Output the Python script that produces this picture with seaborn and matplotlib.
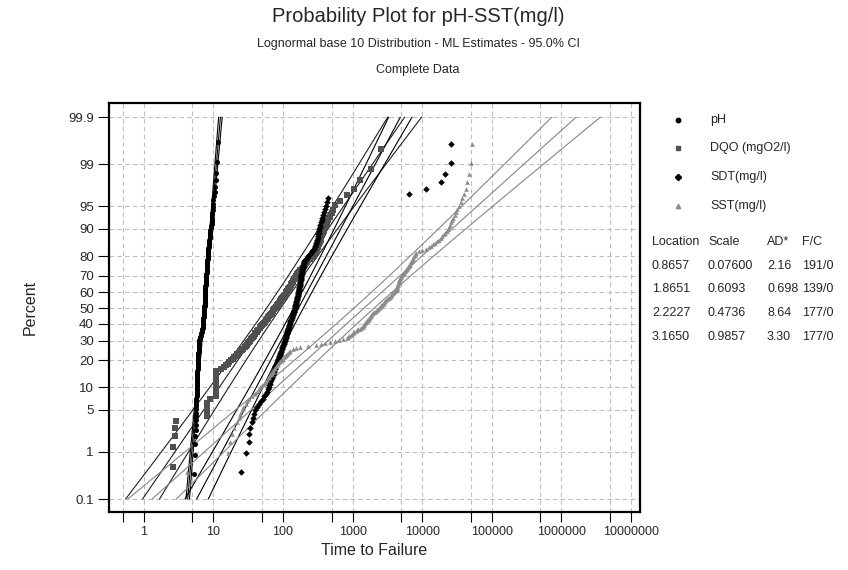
import numpy as np
import pandas as pd
import matplotlib
matplotlib.use("Agg")
import matplotlib.pyplot as plt
from matplotlib.lines import Line2D
from matplotlib.ticker import FixedLocator, NullFormatter
import seaborn as sns
from statistics import NormalDist

# fitted parameters (table on the right of the chart)
series_names = ["pH", "DQO (mgO2/l)", "SDT(mg/l)", "SST(mg/l)"]
locations = [0.8657, 1.8651, 2.2227, 3.1650]
scales = [0.07600, 0.6093, 0.4736, 0.9857]
loc_labels = ["0.8657", "1.8651", "2.2227", "3.1650"]
scale_labels = ["0.07600", "0.6093", "0.4736", "0.9857"]
ad_labels = ["2.16", "0.698", "8.64", "3.30"]
fc_labels = ["191/0", "139/0", "177/0", "177/0"]

ph_levels = [5.3, 5.4, 5.5, 5.6, 5.7, 5.8, 5.9, 6.0, 6.1, 6.2, 6.3, 6.5, 6.7, 6.9,
             7.0, 7.1, 7.2, 7.3, 7.4, 7.5, 7.6, 7.7, 7.8, 7.9, 8.0, 8.1, 8.2, 8.3,
             8.4, 8.5, 8.6, 8.7, 8.8, 9.0, 9.2, 9.4, 9.5, 9.6, 9.8, 10.0, 10.2,
             10.4, 10.6, 10.8, 11.0, 11.2, 11.6]
ph_counts = [1, 1, 2, 4, 6, 8, 8, 9, 6, 7, 6, 4, 4, 5,
             4, 4, 5, 6, 8, 9, 9, 7, 7, 6, 5, 5, 4, 4,
             3, 3, 3, 3, 3, 3, 2, 2, 2, 2, 2, 2, 1,
             1, 1, 1, 1, 1, 1]

dqo = [2.6, 2.6, 2.8, 2.8, 2.9, 8, 8, 8, 8, 9,
       11, 11, 11, 11, 11, 11, 11, 11, 11, 11, 11, 11,
       13, 14, 15, 16, 17,
       18, 19, 20, 21, 22, 23, 24, 26,
       27, 28, 29, 30, 31, 32, 34,
       35, 36, 37, 38, 39, 40, 42,
       43, 44, 46, 47, 49, 50, 52,
       54, 55, 57, 58, 60, 61, 63,
       65, 67, 69, 71, 73, 75, 77,
       79, 81, 83, 85, 88, 90, 93,
       95, 98, 100, 103, 106, 109, 112,
       115, 117, 120, 123, 126, 129, 132,
       135, 138, 141, 144, 148, 152, 156,
       160, 166, 172, 178, 185, 192, 200,
       205, 212, 220, 230, 245, 260, 280,
       287, 294, 300, 308, 315, 322, 330,
       338, 346, 355, 364, 373, 386, 400,
       415, 432, 450, 470,
       500, 530, 560,
       650, 820, 1060, 1260, 1840, 2580]

sdt = [25, 29, 32, 33, 34,
       36, 37, 38, 40,
       42, 45, 48, 51, 54, 57,
       59, 60, 62,
       63, 65, 66, 67, 69, 70, 72, 73,
       74, 75, 76, 77, 78, 80, 81, 82, 84, 85,
       86, 87, 88, 90, 91,
       92, 93, 94, 96, 97, 98, 99, 100, 102, 103, 104, 106,
       107, 108, 109, 110, 111, 112, 113, 114,
       115, 116, 117, 118, 119, 120, 121, 122, 123, 125,
       126, 127, 128, 130, 131, 132, 133, 135, 136, 138, 139, 141,
       142, 143, 144, 145, 147, 148,
       149, 150, 151, 152, 153, 154, 155, 156, 157, 158, 159, 160, 161, 162, 163, 164, 166,
       167, 168, 169, 170, 171, 172, 172, 173, 174, 175, 176, 177, 178, 179, 180, 181, 182, 183,
       184, 185, 186,
       187, 188, 189, 190, 192, 193, 195, 196, 198, 200, 203, 206,
       212, 220, 228, 236, 244, 252, 260, 268, 276, 284, 292, 300,
       303, 307, 311, 315, 319, 322, 326, 330, 334, 338,
       345, 352, 360, 368, 377, 388, 400,
       415, 430, 450,
       6500, 11300, 18500, 21000, 26000, 26000]

sst = [4.2, 16, 17.5, 18.5,
       20, 21.8, 23, 24.5, 25.7,
       27, 29, 30, 32, 36, 40,
       42, 45, 47, 50, 52.5,
       55, 58, 61, 63, 66, 69,
       71, 73, 75, 77, 79, 82, 85, 88, 92, 96,
       99, 102, 106, 110, 114, 118, 122, 126,
       140, 155, 175,
       230, 303, 350, 400, 467,
       560, 640, 720, 820,
       860, 900, 940, 980, 1020, 1060, 1110, 1160, 1210, 1260, 1320, 1390,
       1420, 1450, 1480, 1510, 1550, 1590, 1630, 1670, 1710, 1750, 1790, 1830, 1870, 1920, 1970,
       2030, 2100, 2170, 2240, 2310, 2380, 2450, 2520, 2590, 2660, 2730, 2800, 2870, 2950, 3040,
       3130, 3220, 3320, 3420, 3520, 3620, 3730, 3840, 3960, 4080, 4200,
       4240, 4280, 4320, 4360, 4400, 4450, 4500, 4550, 4600, 4650, 4700, 4760, 4820, 4890, 4960,
       5100, 5250, 5400, 5550, 5700, 5850,
       6000, 6150, 6300, 6450, 6600, 6750, 6900, 7050, 7200, 7350, 7500, 7650, 7800, 7970, 8150,
       9000, 10000, 11200, 12600,
       13500, 14500, 15500, 16500, 17500,
       18500, 19500, 20500, 21500, 22500, 23400, 24400,
       25300, 26200, 27100, 28100, 29200, 30300,
       32000, 34000, 35800,
       37800, 39800,
       42000, 44500, 47000, 49700, 52500]

percent_ticks = [0.1, 1, 5, 10, 20, 30, 40, 50, 60, 70, 80, 90, 95, 99, 99.9]
percent_labels = ["0.1", "1", "5", "10", "20", "30", "40", "50", "60", "70", "80",
                  "90", "95", "99", "99.9"]
time_ticks = [1, 10, 100, 1000, 10000, 100000, 1000000, 10000000]
time_minor = [0.5, 5, 50, 500, 5000, 50000, 500000, 5000000]

marker_style = ["o", "s", "D", "^"]
marker_size = [13, 13, 11, 11]
marker_color = ["#000000", "#505050", "#000000", "#8c8c8c"]
line_color = ["#000000", "#202020", "#000000", "#858585"]

nd = NormalDist()
ppf = np.vectorize(nd.inv_cdf)

sns.set_theme(style="white")
plt.rcParams["font.family"] = ["Liberation Sans", "DejaVu Sans"]

fig = plt.figure(figsize=(8.48, 5.70), dpi=100)
W, H = 848, 570
ax = fig.add_axes([109 / W, 1 - 512 / H, 531 / W, 409 / H])

datasets = [np.repeat(ph_levels, ph_counts), np.array(dqo), np.array(sdt), np.array(sst)]

# fitted lines with 95% CI (ML, lognormal base 10)
z_line = np.linspace(ppf(0.001), ppf(0.999), 80)
for k, data in enumerate(datasets):
    n = len(data)
    mu, sig = locations[k], scales[k]
    centre = mu + sig * z_line
    half = 1.96 * sig * np.sqrt(1.0 / n + z_line ** 2 / (2.0 * n))
    for curve in (centre - half, centre, centre + half):
        sns.lineplot(x=10 ** curve, y=z_line, sort=False, estimator=None, ax=ax,
                     color=line_color[k], lw=0.8)

# data points at Benard median ranks
for k, data in enumerate(datasets):
    n = len(data)
    ranks = np.arange(1, n + 1)
    frame = pd.DataFrame({"time": np.sort(data),
                          "z": ppf((ranks - 0.3) / (n + 0.4))})
    sns.scatterplot(data=frame, x="time", y="z", ax=ax, marker=marker_style[k],
                    color=marker_color[k], s=marker_size[k], linewidth=0, zorder=3)

ax.set_xscale("log")
ax.set_xlim(10 ** -0.5, 10 ** 7.13)
ax.set_ylim(-3.30, 3.32)
ax.xaxis.set_major_locator(FixedLocator(time_ticks))
ax.set_xticklabels(["%d" % t for t in time_ticks])
ax.xaxis.set_minor_locator(FixedLocator(time_minor))
ax.xaxis.set_minor_formatter(NullFormatter())
ax.set_yticks(ppf(np.array(percent_ticks) / 100.0))
ax.set_yticklabels(percent_labels)
ax.tick_params(axis="both", which="both", direction="out", length=7, width=0.8,
               color="black", labelsize=9, pad=3)
ax.tick_params(axis="y", labelsize=9.5, length=8)
ax.tick_params(axis="both", which="both", bottom=True, left=True)
ax.grid(True, which="both", color="#bdbdbd", ls=(0, (4, 3)), lw=0.8)
for sp in ax.spines.values():
    sp.set_color("black")
    sp.set_linewidth(1.6)
ax.set_xlabel("Time to Failure", fontsize=11.5, labelpad=4)
ax.set_ylabel("")
fig.text(30 / W, 1 - 307 / H, "Percent", rotation=90, ha="center", va="center",
         fontsize=11.5)

fig.text(418 / W, 1 - 16 / H, "Probability Plot for pH-SST(mg/l)", ha="center",
         va="center", fontsize=14.5)
fig.text(418 / W, 1 - 44 / H, "Lognormal base 10 Distribution - ML Estimates - 95.0% CI",
         ha="center", va="center", fontsize=9)
fig.text(418 / W, 1 - 70 / H, "Complete Data", ha="center", va="center", fontsize=9)

# legend
legend_y = [120, 148, 177, 206]
for k in range(4):
    fig.add_artist(Line2D([678 / W], [1 - legend_y[k] / H], marker=marker_style[k],
                          color=marker_color[k], ms=3.2, ls="none",
                          transform=fig.transFigure))
    fig.text(710 / W, 1 - legend_y[k] / H, series_names[k], va="center", fontsize=9)

# parameter table
col_x = [652, 708, 767, 802]
header = ["Location", "Scale", "AD*", "F/C"]
for c in range(4):
    fig.text(col_x[c] / W, 1 - 242 / H, header[c], va="center", fontsize=9)
row_y = [266, 289, 313, 337]
for k in range(4):
    for c, txt in enumerate([loc_labels[k], scale_labels[k], ad_labels[k], fc_labels[k]]):
        fig.text(col_x[c] / W, 1 - row_y[k] / H, txt, va="center", fontsize=9)

fig.savefig("out.png", dpi=100)
